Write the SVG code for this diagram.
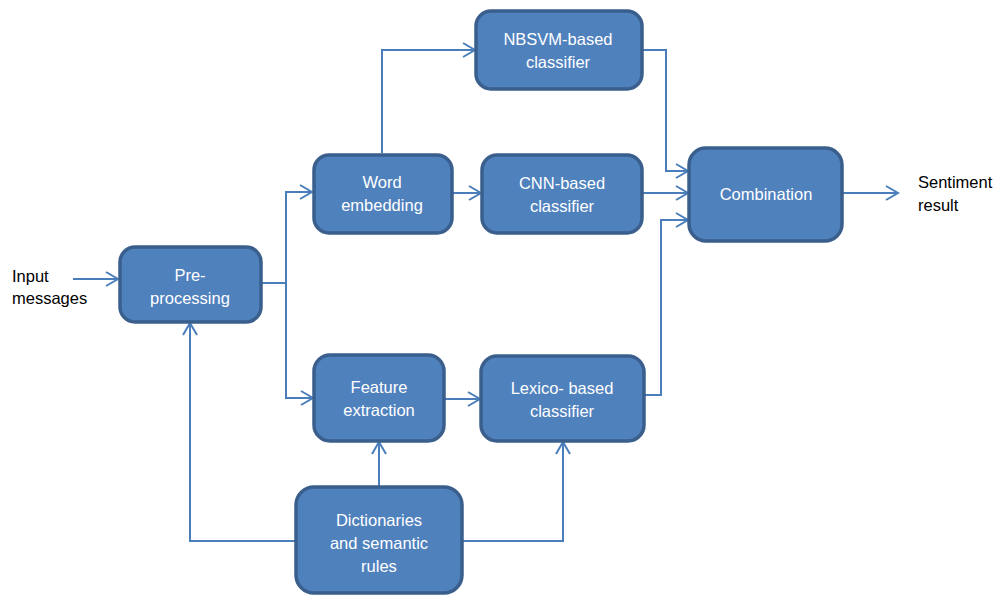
<svg xmlns="http://www.w3.org/2000/svg" width="997" height="597" viewBox="0 0 997 597">
<style>
.box{fill:#4F81BD;stroke:#3A5F8D;stroke-width:3.5}
.lbl{font-family:"Liberation Sans",Arial,sans-serif;font-size:16.5px;fill:#FFFFFF;text-anchor:middle}
.ext{font-family:"Liberation Sans",Arial,sans-serif;font-size:16.5px;fill:#000000}
.c{fill:none;stroke:#4A7EBB;stroke-width:2}
</style>
<defs>
<marker id="ah" markerUnits="userSpaceOnUse" markerWidth="16" markerHeight="18" refX="13" refY="8" orient="auto" viewBox="0 0 16 16">
<path d="M1,1 L13,8 L1,15" fill="none" stroke="#4A7EBB" stroke-width="2"/>
</marker>
</defs>
<rect width="997" height="597" fill="#FFFFFF"/>
<g id="connectors">
<path class="c" d="M73,279 L118,279" marker-end="url(#ah)"/>
<path class="c" d="M262,283 L286,283"/>
<path class="c" d="M286,398 L286,192 L312,192" marker-end="url(#ah)"/>
<path class="c" d="M286,283 L286,398 L313,398" marker-end="url(#ah)"/>
<path class="c" d="M382,153 L382,50 L475,50" marker-end="url(#ah)"/>
<path class="c" d="M453,193 L481,193" marker-end="url(#ah)"/>
<path class="c" d="M643,50 L666,50 L666,171 L688,171" marker-end="url(#ah)"/>
<path class="c" d="M643,193 L688,193" marker-end="url(#ah)"/>
<path class="c" d="M645,395 L661,395 L661,220 L688,220" marker-end="url(#ah)"/>
<path class="c" d="M843,193 L898,193" marker-end="url(#ah)"/>
<path class="c" d="M445,399 L480,399" marker-end="url(#ah)"/>
<path class="c" d="M379,486 L379,442" marker-end="url(#ah)"/>
<path class="c" d="M463,541 L563,541 L563,442" marker-end="url(#ah)"/>
<path class="c" d="M295,541 L190,541 L190,323" marker-end="url(#ah)"/>
</g>
<g id="input">
<text class="ext" x="12" y="282">Input</text>
<text class="ext" x="12" y="304">messages</text>
</g>
<g id="preprocessing">
<rect class="box" x="120" y="247" width="141" height="75" rx="15"/>
<text class="lbl" x="190" y="281">Pre-</text>
<text class="lbl" x="190" y="304">processing</text>
</g>
<g id="wordembedding">
<rect class="box" x="314" y="155" width="138" height="78" rx="15"/>
<text class="lbl" x="382" y="188">Word</text>
<text class="lbl" x="382" y="211">embedding</text>
</g>
<g id="nbsvm">
<rect class="box" x="476" y="11" width="166" height="78" rx="15"/>
<text class="lbl" x="558" y="45">NBSVM-based</text>
<text class="lbl" x="558" y="68">classifier</text>
</g>
<g id="cnn">
<rect class="box" x="482" y="155" width="160" height="78" rx="15"/>
<text class="lbl" x="562" y="189">CNN-based</text>
<text class="lbl" x="562" y="212">classifier</text>
</g>
<g id="combination">
<rect class="box" x="689" y="148" width="153" height="93" rx="17"/>
<text class="lbl" x="766" y="200">Combination</text>
</g>
<g id="feature">
<rect class="box" x="314" y="355" width="130" height="86" rx="16"/>
<text class="lbl" x="379" y="393">Feature</text>
<text class="lbl" x="379" y="416">extraction</text>
</g>
<g id="lexico">
<rect class="box" x="481" y="356" width="163" height="85" rx="16"/>
<text class="lbl" x="562" y="394">Lexico- based</text>
<text class="lbl" x="562" y="417">classifier</text>
</g>
<g id="dictionaries">
<rect class="box" x="296" y="487" width="166" height="106" rx="18"/>
<text class="lbl" x="379" y="526">Dictionaries</text>
<text class="lbl" x="379" y="549">and semantic</text>
<text class="lbl" x="379" y="572">rules</text>
</g>
<g id="sentiment">
<text class="ext" x="918" y="188">Sentiment</text>
<text class="ext" x="918" y="211">result</text>
</g>
</svg>
